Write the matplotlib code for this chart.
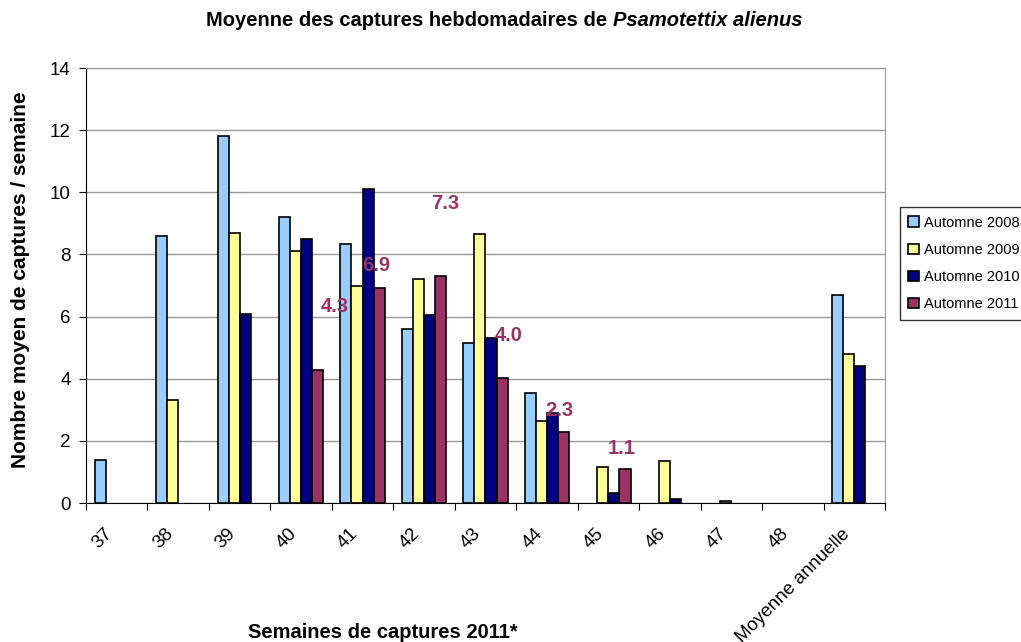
import numpy as np
import matplotlib.pyplot as plt
from matplotlib.transforms import ScaledTranslation

plt.rcParams['font.family'] = ['Liberation Sans', 'DejaVu Sans']

# weeks of capture
weeks = ['37', '38', '39', '40', '41', '42', '43', '44', '45', '46', '47', '48',
         'Moyenne annuelle']

# mean weekly captures per autumn (0 = no bar)
autumn_2008 = [1.4, 8.6, 11.8, 9.2, 8.35, 5.6, 5.15, 3.55, 0, 0, 0, 0, 6.7]
autumn_2009 = [0, 3.33, 8.7, 8.1, 7.0, 7.2, 8.65, 2.65, 1.15, 1.35, 0.07, 0, 4.8]
autumn_2010 = [0, 0, 6.07, 8.5, 10.1, 6.05, 5.3, 2.9, 0.32, 0.12, 0, 0, 4.4]
autumn_2011 = [0, 0, 0, 4.28, 6.93, 7.3, 4.03, 2.3, 1.1, 0, 0, 0, 0]

series_names = ['Automne 2008', 'Automne 2009', 'Automne 2010', 'Automne 2011']
colors = ['#99CCFF', '#FFFF99', '#000080', '#993366']

# 2011 value labels, placed where excel dropped them
label_texts = ['4.3', '6.9', '7.3', '4.0', '2.3', '1.1']
label_x = [3.55, 4.23, 5.34, 6.38, 7.2, 8.21]
label_y = [6.34, 7.63, 9.65, 5.4, 2.99, 1.77]

fig = plt.figure(figsize=(10.21, 6.42), dpi=100)
ax = fig.add_axes([0.0842, 0.2165, 0.7826, 0.6775])

x = np.arange(len(weeks))
w = 0.18
all_series = [autumn_2008, autumn_2009, autumn_2010, autumn_2011]
for i, (vals, name, col) in enumerate(zip(all_series, series_names, colors)):
    vals = np.array(vals, dtype=float)
    keep = vals > 0
    ax.bar(x[keep] + (i - 1.5) * w, vals[keep], w, color=col, edgecolor='black',
           linewidth=1.2, label=name, zorder=3)

for t, lx, ly in zip(label_texts, label_x, label_y):
    ax.text(lx, ly, t, color='#993366', fontsize=14.5, fontweight='bold',
            ha='center', va='center', zorder=4)

ax.set_xlim(-0.5, len(weeks) - 0.5)
ax.set_ylim(0, 14)
ax.set_yticks(np.arange(0, 15, 2))
ax.tick_params(axis='y', labelsize=13.5, direction='out', length=5, pad=6)
ax.yaxis.grid(True, color='#999999', linewidth=1, zorder=0)

# ticks between categories, labels under category centres
ax.set_xticks(np.arange(-0.5, len(weeks), 1))
ax.set_xticklabels([])
ax.set_xticks(x, minor=True)
ax.set_xticklabels(weeks, minor=True, rotation=45, ha='right',
                   rotation_mode='anchor', fontsize=13.5)
ax.tick_params(axis='x', which='major', direction='out', length=5)
ax.tick_params(axis='x', which='minor', length=0, pad=16)
shift = ScaledTranslation(-0.13, 0, fig.dpi_scale_trans)
for lab in ax.get_xticklabels(minor=True):
    lab.set_transform(lab.get_transform() + shift)

for s in ['top', 'right']:
    ax.spines[s].set_color('#999999')
ax.spines['left'].set_color('black')
ax.spines['bottom'].set_color('black')

ax.set_ylabel('Nombre moyen de captures / semaine', fontsize=15,
              fontweight='bold')
ax.yaxis.set_label_coords(-0.07, 0.513)
fig.text(383 / 1021, 1 - 633 / 642, 'Semaines de captures 2011*', fontsize=14.5,
         fontweight='bold', ha='center', va='center')

fig.text(613 / 1021, 1 - 21 / 642, 'Moyenne des captures hebdomadaires de ',
         fontsize=14.5, fontweight='bold', ha='right', va='center')
fig.text(613 / 1021, 1 - 21 / 642, 'Psamotettix alienus', fontsize=14.5,
         fontweight='bold', fontstyle='italic', ha='left', va='center')

leg = fig.legend(loc='upper left', bbox_to_anchor=(0.874, 0.689), fontsize=10.5,
                 frameon=True, fancybox=False, edgecolor='black',
                 handlelength=0.7, handleheight=0.7, labelspacing=0.9,
                 borderpad=0.6, handletextpad=0.4)
leg.get_frame().set_linewidth(1)

fig.savefig('out.png', dpi=100)
